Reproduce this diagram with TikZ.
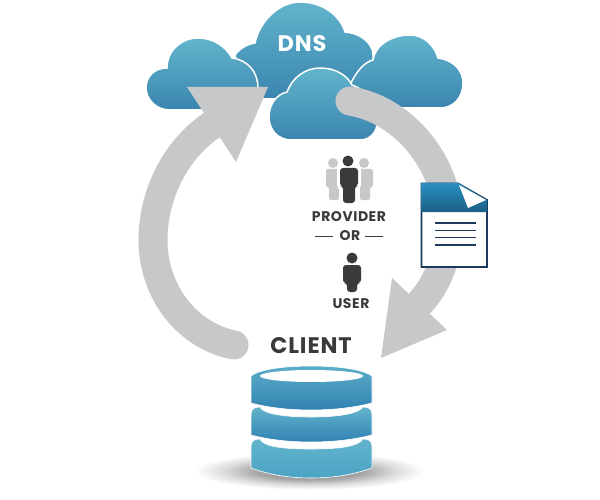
\documentclass[tikz,border=0pt]{standalone}
\usepackage{fontspec}
\setmainfont{Poppins}[LetterSpace=4]
\definecolor{arrowgray}{HTML}{C7C8CA}
\definecolor{persondark}{HTML}{3A3A3C}
\definecolor{navy}{HTML}{1B3A5C}
\definecolor{cloudtop}{HTML}{62B4CC}
\definecolor{cloudbot}{HTML}{3A85AF}
\definecolor{doctop}{HTML}{2A8FC0}
\definecolor{docbot}{HTML}{1C5F85}
\definecolor{diskbot}{HTML}{3282B2}
\definecolor{disklow}{HTML}{4CA3C4}
\pgfdeclareradialshading{floorblur}{\pgfpoint{0bp}{0bp}}{color(0bp)=(black!42); color(11bp)=(black!36); color(18bp)=(black!14); color(24.5bp)=(white); color(50bp)=(white)}
\tikzset{
    cloudfill/.style={top color=cloudtop, bottom color=cloudbot, draw=white, line width=1.5},
    diskfill/.style={draw=white, line width=0.6},
    bigarrow/.style={draw=arrowgray, line width=29, line cap=round},
    label/.style={font=\bfseries\fontsize{#1}{#1}\selectfont, text=persondark, inner sep=0pt},
}
\begin{document}
\begin{tikzpicture}[x=1pt,y=-1pt]
    \useasboundingbox (0,0) rectangle (600,500);
    \fill[white] (0,0) rectangle (600,500);
    % floor shadow
    \path[shading=floorblur] (310,471) ellipse (118 and 19);
    % clouds
    \path[cloudfill] (235,55) .. controls (240,48) and (248,44) .. (255,43) .. controls (260,20) and (280,2) .. (300,2) .. controls (322,2) and (340,15) .. (345,32) .. controls (360,33) and (373,43) .. (373,55) -- (373,99) -- (245,99) -- cycle;
    \path[cloudfill] (170,110) .. controls (155,110) and (146,98) .. (146,88) .. controls (146,76) and (155,68) .. (167,68) .. controls (167,50) and (182,38) .. (198,38) .. controls (214,38) and (226,47) .. (232,58) .. controls (248,60) and (258,72) .. (258,88) -- (258,110) -- cycle;
    \path[cloudfill] (350,108) -- (350,85) .. controls (357,70) and (365,62) .. (373,60) .. controls (375,45) and (392,35) .. (410,35) .. controls (425,35) and (435,47) .. (438,58) .. controls (453,60) and (463,70) .. (463,83) .. controls (463,98) and (453,108) .. (440,108) -- cycle;
    \path[cloudfill] (292,140) .. controls (278,140) and (269,130) .. (269,117) .. controls (269,104) and (277,94) .. (287,92) .. controls (292,78) and (305,68) .. (320,68) .. controls (335,68) and (347,75) .. (352,85) .. controls (367,90) and (377,105) .. (377,123) .. controls (377,132) and (370,140) .. (360,140) -- cycle;
    \node (dns) at (302,44) [label=22.5, text=white] {DNS};
    % big arrows
    \draw[bigarrow] (234,345) .. controls (185,335) and (153,290) .. (153,240) .. controls (153,195) and (175,150) .. (212,125);
    \fill[arrowgray] (187,87) -- (268,87) -- (236,162) -- cycle;
    \draw[bigarrow] (350,101) .. controls (405,110) and (449,165) .. (449,225) .. controls (449,255) and (437,285) .. (420,303);
    \fill[arrowgray] (392,278) -- (447,330) -- (381,358) -- cycle;
    % document
    \path[fill=white, draw=navy, line width=1.8] (421.5,183.5) -- (458,183.5) -- (487,200) -- (487,267) -- (421.5,267) -- cycle;
    \path[top color=doctop, bottom color=docbot, draw=none] (421,183) -- (458,183) -- (487,200) -- (487,212) -- (421,212) -- cycle;
    \fill[white] (459,185) -- (468,208) -- (486,200) -- cycle;
    \foreach \ly in {223,230.5,237.5,245}
        \draw[navy, line width=1.6] (435,\ly) -- (476,\ly);
    % people
    \begin{scope}[arrowgray]
        \fill (333,163) circle (5);
        \fill (364,163) circle (5);
        \fill[rounded corners=2] (326,169) -- (339,169) -- (339,200) -- (329,200) -- (329,187) -- (326,187) -- cycle;
        \fill[rounded corners=2] (360,169) -- (373,169) -- (373,187) -- (370,187) -- (370,200) -- (360,200) -- cycle;
    \end{scope}
    \begin{scope}[white]
        \fill[rounded corners=3] (337,166) -- (361,166) -- (361,188) -- (358,188) -- (358,205) -- (340,205) -- (340,188) -- (337,188) -- cycle;
    \end{scope}
    \begin{scope}[persondark]
        \fill (348,161) circle (5.5);
        \fill[rounded corners=3] (340,168) -- (358,168) -- (358,186) -- (355,186) -- (355,203) -- (343,203) -- (343,186) -- (340,186) -- cycle;
        \fill (352,258) circle (5.5);
        \fill[rounded corners=3] (343,265) -- (361,265) -- (361,283) -- (357,283) -- (357,292) -- (347,292) -- (347,283) -- (343,283) -- cycle;
    \end{scope}
    \node (provider) at (349,217) [label=14] {PROVIDER};
    \node (ortext) at (350,236) [label=14] {OR};
    \node (user) at (351,304) [label=14] {USER};
    \draw[persondark, line width=0.9] (315,236) -- (333,236);
    \draw[persondark, line width=0.9] (365,236) -- (383,236);
    \node (client) at (311,346) [label=22.5] {CLIENT};
    % database
    \path[diskfill, top color=cloudtop, bottom color=disklow] (251,447) .. controls (251,441) and (254,439) .. (260,439) .. controls (263,447) and (285,449) .. (311,449) .. controls (337,449) and (358,447) .. (363,439) .. controls (369,439) and (372,441) .. (372,447) -- (372,468) .. controls (352,475) and (332,478) .. (311,478) .. controls (290,478) and (270,475) .. (251,468) -- cycle;
    \path[diskfill, top color=cloudtop, bottom color=diskbot] (251,415) .. controls (251,409) and (254,407) .. (260,407) .. controls (263,414) and (285,417) .. (311,417) .. controls (337,417) and (358,414) .. (363,407) .. controls (369,407) and (372,409) .. (372,415) -- (372,435) .. controls (352,440) and (332,442) .. (311,442) .. controls (290,442) and (270,440) .. (251,435) -- cycle;
    \path[diskfill, top color=cloudtop!85!cloudbot, bottom color=diskbot] (251,376) .. controls (260,369) and (285,366) .. (311,366) .. controls (337,366) and (362,369) .. (372,376) -- (372,403) .. controls (352,408) and (332,410) .. (311,410) .. controls (290,410) and (270,408) .. (251,403) -- cycle;
    \fill[white] (311.5,376) ellipse (51.5 and 6);
\end{tikzpicture}
\end{document}
